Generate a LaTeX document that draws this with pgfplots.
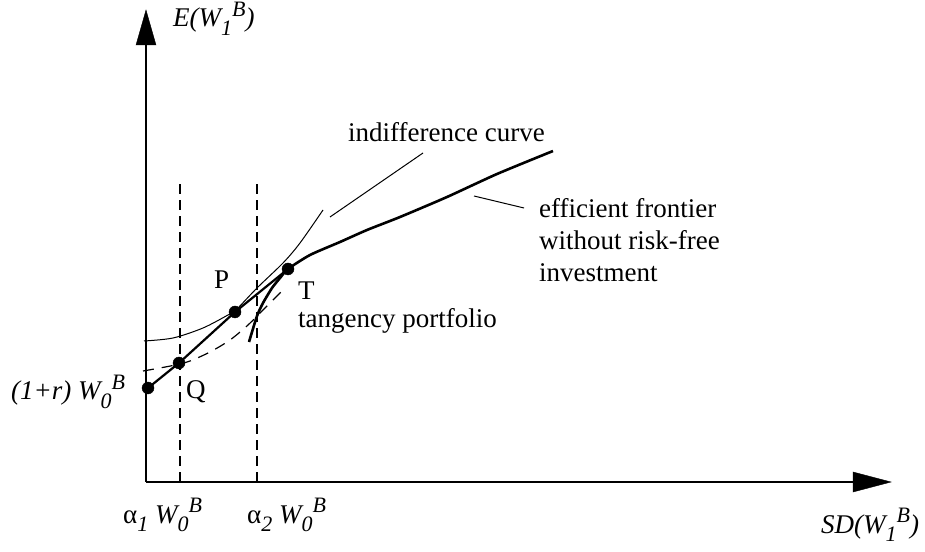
\documentclass[border=0pt]{standalone}
\usepackage{fontspec}
\setmainfont{Liberation Serif}
\usepackage{pgfplots}
\pgfplotsset{compat=1.18}
\newcommand{\sub}[1]{\raisebox{-0.3em}{\fontsize{22}{22}\selectfont #1}}
\newcommand{\sups}[1]{\raisebox{0.38em}{\fontsize{22}{22}\selectfont #1}}
\tikzset{lab/.style={font=\fontsize{27}{32}\selectfont,anchor=base west,inner sep=0pt}}
\begin{document}
\begin{tikzpicture}
\begin{axis}[width=925pt,height=551pt,scale only axis,
  xmin=0,xmax=925,ymin=0,ymax=551,hide axis,clip=false]
% frame for bounding box
\addplot[draw=none] coordinates {(0,0) (925,551)};
% axes
\addplot[black,line width=1.4pt] coordinates {(146,69) (146,508)};
\addplot[black,fill=black] coordinates {(136,506) (146,541) (156,506)} -- cycle;
\addplot[black,line width=1.4pt] coordinates {(146,69) (855,69)};
\addplot[black,fill=black] coordinates {(853,79) (891,69) (853,59)} -- cycle;
% dashed verticals
\addplot[black,line width=1.2pt,dash pattern=on 10pt off 6pt] coordinates {(180,69) (180,373)};
\addplot[black,line width=1.2pt,dash pattern=on 10pt off 6pt] coordinates {(257,69) (257,373)};
% dashed indifference curve through Q
\addplot[black,line width=1.2pt,dash pattern=on 11pt off 8pt,smooth,tension=0.5] coordinates {
(143,180) (160,183) (175,186) (190,190) (210,199) (230,211) (248,226) (265,243) (281,259)};
% thin indifference curve through P
\addplot[black,line width=1.0pt,smooth,tension=0.5] coordinates {
(144,210) (173,213) (203,223) (228,236) (235,240) (257,263) (283,288) (300,308) (323,341)};
% efficient frontier
\addplot[black,line width=2.6pt,smooth,tension=0.4] coordinates {
(249,209) (257,235) (263,248) (272,263) (280,273) (288,282) (310,296) (340,309) (367,321) (400,334) (447,354) (497,377) (553,400)};
% line from risk-free through Q, P to T
\addplot[black,line width=2.2pt] coordinates {(148,163) (179,188) (235,239) (288,282)};
% points
\addplot[only marks,mark=*,mark size=6pt,black] coordinates {(148,163) (179,188) (235,239) (288,282)};
% leader lines
\addplot[black,line width=1.0pt] coordinates {(330,334) (423,398)};
\addplot[black,line width=1.0pt] coordinates {(474,355) (524,343)};
% labels
\node[lab] at (axis cs:173,524) {\textit{E(W\sub{1}\sups{B})}};
\node[lab] at (axis cs:821,18) {\textit{SD(W\sub{1}\sups{B})}};
\node[lab] at (axis cs:123,28) {α\sub{\textit{1}} \textit{W\sub{0}\sups{B}}};
\node[lab] at (axis cs:247,28) {α\sub{\textit{2}} \textit{W\sub{0}\sups{B}}};
\node[lab] at (axis cs:11,151) {\textit{(1+r) W\sub{0}\sups{B}}};
\node[lab] at (axis cs:214,262) {P};
\node[lab] at (axis cs:186,152) {Q};
\node[lab] at (axis cs:298,251) {T};
\node[lab] at (axis cs:298,223) {tangency portfolio};
\node[lab] at (axis cs:348,409) {indifference curve};
\node[lab] at (axis cs:539,333) {efficient frontier};
\node[lab] at (axis cs:539,301) {without risk-free};
\node[lab] at (axis cs:539,269) {investment};
\end{axis}
\end{tikzpicture}
\end{document}
